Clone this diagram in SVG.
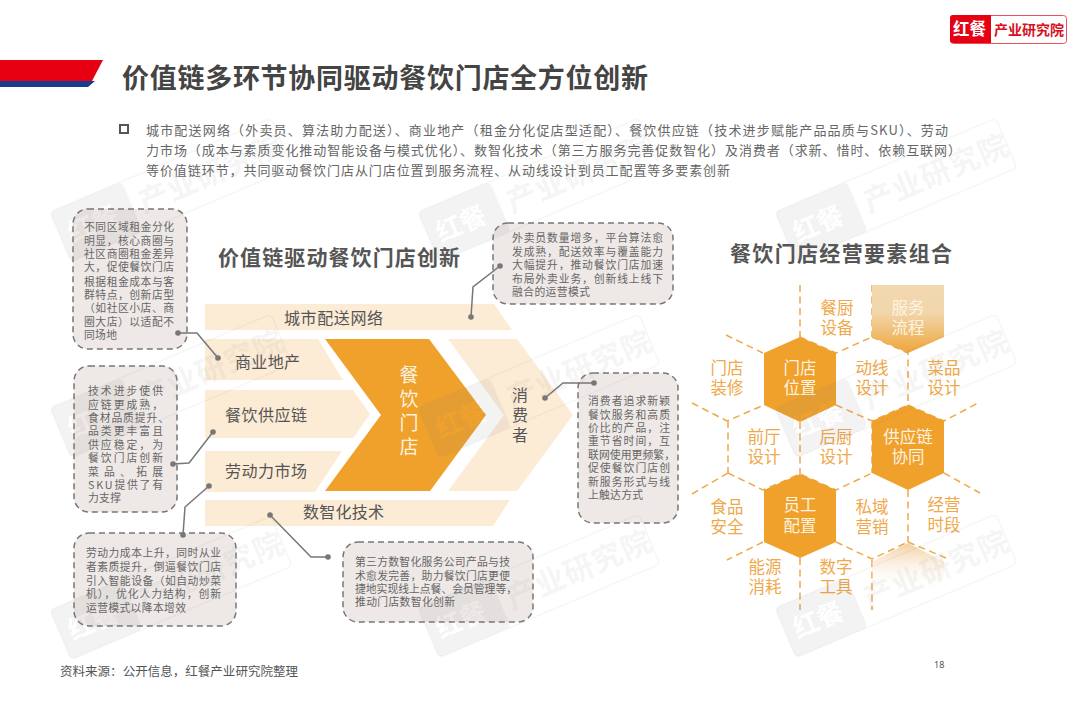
<svg xmlns="http://www.w3.org/2000/svg" width="1080" height="720" viewBox="0 0 1080 720">
<style>
text{font-family:"Noto Sans CJK SC","Noto Sans",sans-serif}
.title{font-size:27px;font-weight:700;fill:#444}
.body{font-size:13px;fill:#666}
.head{font-size:21px;font-weight:700;fill:#555}
.note{fill:#EEE9E6;stroke:#777;stroke-width:1.5;stroke-dasharray:6 4}
.nt{font-size:10.8px;fill:#666}
.band{fill:#FCEBD5}
.bt{font-size:16px;fill:#555}
.hx{fill:#EFA12C}
.ht{font-size:16.5px;fill:#EFA84A;text-anchor:middle}
.hw{font-size:16.5px;fill:#FDF3E0;text-anchor:middle}
.edge{fill:none;stroke:#EFA84A;stroke-width:1.5;stroke-dasharray:7 4.5}
.con{fill:none;stroke:#777;stroke-width:1.5}
.dot{fill:#777}
.wb{fill:#808080;opacity:.09}
.wf{fill:none;stroke:#808080;stroke-width:1.5;opacity:.07}
.wl{font-size:26px;font-weight:700;fill:#000}
.wt{font-size:30px;font-weight:700;fill:#808080;opacity:.07;letter-spacing:1px}
</style>
<defs>
<linearGradient id="g1" x1="0" y1="0" x2="0" y2="1"><stop offset="0" stop-color="#F2D8B0"/><stop offset=".4" stop-color="#F2D6AC"/><stop offset="1" stop-color="#EEA63A"/></linearGradient>
<linearGradient id="g2" x1="0" y1="0" x2="0" y2="1"><stop offset="0" stop-color="#F3CFA0"/><stop offset="1" stop-color="#FFFFFF" stop-opacity="0"/></linearGradient>
<mask id="wk" maskUnits="userSpaceOnUse" x="0" y="0" width="80" height="54"><rect width="80" height="54" fill="#fff"/><text class="wl" x="9" y="37">红餐</text></mask>
<g id="wm">
<rect class="wf" width="240" height="54" rx="5"/>
<rect class="wb" width="78" height="54" rx="5" mask="url(#wk)"/>
<text class="wt" x="86" y="38">产业研究院</text>
</g>
</defs>
<rect width="1080" height="720" fill="#fff"/>

<g id="logo">
<rect x="950.500" y="15.500" width="116" height="28" rx="3" fill="#fff" stroke="#E8505B" stroke-width="1"/>
<path d="M953 15H991V43H953a3 3 0 0 1-3-3V18a3 3 0 0 1 3-3Z" fill="#E60012"/>
<text x="953" y="35" font-size="16.500" font-weight="700" fill="#fff">红餐</text>
<text x="994" y="34.500" font-size="14" font-weight="700" fill="#D8101E" textLength="70">产业研究院</text>
</g>
<g id="banner">
<polygon points="0,81 95,81 88,87 0,87" fill="#1A3A8F"/>
<polygon points="0,60 103,60 92,81 0,81" fill="#E60012"/>
</g>
<text id="title" class="title" x="122" y="88" textLength="526">价值链多环节协同驱动餐饮门店全方位创新</text>
<g id="summary">
<rect x="120" y="125" width="8" height="8" fill="none" stroke="#555" stroke-width="2"/>
<text class="body" x="146" y="134.500" textLength="802">城市配送网络（外卖员、算法助力配送）、商业地产（租金分化促店型适配）、餐饮供应链（技术进步赋能产品品质与SKU）、劳动</text>
<text class="body" x="146" y="154.500" textLength="815">力市场（成本与素质变化推动智能设备与模式优化）、数智化技术（第三方服务完善促数智化）及消费者（求新、惜时、依赖互联网）</text>
<text class="body" x="146" y="175" textLength="584">等价值链环节，共同驱动餐饮门店从门店位置到服务流程、从动线设计到员工配置等多要素创新</text>
</g>
<text id="head-left" class="head" x="218" y="265" textLength="242">价值链驱动餐饮门店创新</text>
<text id="head-right" class="head" x="730" y="261" textLength="222">餐饮门店经营要素组合</text>

<g id="n-city"><polygon class="band" points="205,304 494,304 512,330 205,330"/><text class="bt" x="284" y="324" textLength="99">城市配送网络</text></g>
<g id="n-estate"><polygon class="band" points="205,339 318,339 343,380 205,380"/><text class="bt" x="235" y="368" textLength="65">商业地产</text></g>
<g id="n-supply"><polygon class="band" points="205,390 353,390 370,414 353,438 205,438"/><text class="bt" x="225" y="421" textLength="82">餐饮供应链</text></g>
<g id="n-labor"><polygon class="band" points="205,451 342,451 315,492 205,492"/><text class="bt" x="225" y="477" textLength="82">劳动力市场</text></g>
<g id="n-digital"><polygon class="band" points="205,500 510,500 493,526 205,526"/><text class="bt" x="303" y="518" textLength="81">数智化技术</text></g>
<g id="n-store"><polygon class="hx" points="325,339 429,339 486,415 430,491 325,491 381,415"/>
<text x="409" y="382" font-size="19" fill="#FDF3E0" text-anchor="middle">餐</text><text x="409" y="406" font-size="19" fill="#FDF3E0" text-anchor="middle">饮</text><text x="409" y="430" font-size="19" fill="#FDF3E0" text-anchor="middle">门</text><text x="409" y="454" font-size="19" fill="#FDF3E0" text-anchor="middle">店</text></g>
<g id="n-consumer"><polygon class="band" points="448,339 517,339 573,415 517,491 448,491 504,415"/>
<text class="bt" x="520" y="401" text-anchor="middle">消</text><text class="bt" x="520" y="421" text-anchor="middle">费</text><text class="bt" x="520" y="441" text-anchor="middle">者</text></g>

<g id="note-estate"><rect class="note" x="73" y="209" width="114" height="140" rx="15"/>
<text class="nt" x="84" y="231" textLength="90">不同区域租金分化</text><text class="nt" x="84" y="245" textLength="90">明显，核心商圈与</text><text class="nt" x="84" y="258" textLength="90">社区商圈租金差异</text><text class="nt" x="84" y="271" textLength="90">大，促使餐饮门店</text><text class="nt" x="84" y="286" textLength="90">根据租金成本与客</text><text class="nt" x="84" y="299" textLength="90">群特点，创新店型</text><text class="nt" x="84" y="312" textLength="90">（如社区小店、商</text><text class="nt" x="84" y="326" textLength="90">圈大店）以适配不</text><text class="nt" x="84" y="339" textLength="33">同场地</text></g>
<g id="note-supply"><rect class="note" x="74" y="366" width="103" height="146" rx="15"/>
<text class="nt" x="88" y="395" textLength="75">技术进步使供</text><text class="nt" x="88" y="409" textLength="75">应链更成熟，</text><text class="nt" x="88" y="422" textLength="81">食材品质提升、</text><text class="nt" x="88" y="435" textLength="75">品类更丰富且</text><text class="nt" x="88" y="449" textLength="75">供应稳定，为</text><text class="nt" x="88" y="462" textLength="75">餐饮门店创新</text><text class="nt" x="88" y="476" textLength="75">菜品、拓展</text><text class="nt" x="88" y="489" textLength="75">SKU提供了有</text><text class="nt" x="88" y="502" textLength="33">力支撑</text></g>
<g id="note-labor"><rect class="note" x="74" y="533" width="162" height="93" rx="15"/>
<text class="nt" x="86" y="557" textLength="135">劳动力成本上升，同时从业</text><text class="nt" x="86" y="571" textLength="135">者素质提升，倒逼餐饮门店</text><text class="nt" x="86" y="585" textLength="135">引入智能设备（如自动炒菜</text><text class="nt" x="86" y="598" textLength="135">机），优化人力结构，创新</text><text class="nt" x="86" y="612" textLength="100">运营模式以降本增效</text></g>
<g id="note-city"><rect class="note" x="493" y="223" width="180" height="81" rx="15"/>
<text class="nt" x="512" y="242" textLength="151">外卖员数量增多，平台算法愈</text><text class="nt" x="512" y="256" textLength="151">发成熟，配送效率与覆盖能力</text><text class="nt" x="512" y="269" textLength="151">大幅提升，推动餐饮门店加速</text><text class="nt" x="512" y="283" textLength="151">布局外卖业务，创新线上线下</text><text class="nt" x="512" y="296" textLength="78">融合的运营模式</text></g>
<g id="note-consumer"><rect class="note" x="578" y="373" width="100" height="150" rx="15"/>
<text class="nt" x="588" y="405" textLength="82">消费者追求新颖</text><text class="nt" x="588" y="419" textLength="82">餐饮服务和高质</text><text class="nt" x="588" y="432" textLength="82">价比的产品，注</text><text class="nt" x="588" y="445" textLength="82">重节省时间，互</text><text class="nt" x="588" y="459" textLength="87">联网使用更频繁，</text><text class="nt" x="588" y="472" textLength="82">促使餐饮门店创</text><text class="nt" x="588" y="486" textLength="82">新服务形式与线</text><text class="nt" x="588" y="499" textLength="55">上触达方式</text></g>
<g id="note-digital"><rect class="note" x="343" y="542" width="190" height="80" rx="15"/>
<text class="nt" x="355" y="566" textLength="155">第三方数智化服务公司产品与技</text><text class="nt" x="355" y="580" textLength="155">术愈发完善，助力餐饮门店更便</text><text class="nt" x="355" y="593" textLength="162">捷地实现线上点餐、会员管理等，</text><text class="nt" x="355" y="606" textLength="100">推动门店数智化创新</text></g>

<g id="connectors">
<path class="con" d="M178 333H197L218 358"/><circle class="dot" cx="178" cy="333" r="2.800"/><circle class="dot" cx="218" cy="358" r="2.800"/>
<path class="con" d="M173 464L189 463L213 432"/><circle class="dot" cx="173" cy="464" r="2.800"/><circle class="dot" cx="213" cy="432" r="2.800"/>
<path class="con" d="M183 535L185 507L209 486"/><circle class="dot" cx="183" cy="535" r="2.800"/><circle class="dot" cx="209" cy="486" r="2.800"/>
<path class="con" d="M270 515L311 557H328"/><circle class="dot" cx="270" cy="515" r="2.800"/><circle class="dot" cx="328" cy="557" r="2.800"/>
<path class="con" d="M471 317L473 287L500 266"/><circle class="dot" cx="471" cy="317" r="2.800"/><circle class="dot" cx="500" cy="266" r="2.800"/>
<path class="con" d="M545 398L563 383H594"/><circle class="dot" cx="545" cy="398" r="2.800"/><circle class="dot" cx="594" cy="383" r="2.800"/>
</g>

<g id="hex-edges">
<path class="edge" d="M800 285V337M872 285V337M800 337L836 353L872 337M872 337L908 353V405M726 335L763 353M692 403L727 421L764 405M908 405L944 421L980 402M836 405L872 421L908 405M728 421V473M800 422V474M872 422V473M728 473L763 490L800 474L836 490L872 473M692 494L728 473M763 542L727 560M908 490V542M836 542L872 559L908 542M944 473L980 493M908 542L946 558M800 558V610M872 560V610"/>
</g>
<g id="h-service"><polygon points="872,285 944,285 944,337 908,353 872,337" fill="url(#g1)"/><text class="hw" x="908" y="314">服务</text><text class="hw" x="908" y="334">流程</text></g>
<g id="h-empty"><polygon points="872,562 908,543 944,562 944,590 872,590" fill="url(#g2)"/></g>
<g id="h-location"><polygon class="hx" points="800,337 836,353 836,405 800,422 764,405 764,353"/><text class="hw" x="800" y="374">门店</text><text class="hw" x="800" y="394">位置</text></g>
<g id="h-chain"><polygon class="hx" points="908,405 944,421 944,473 908,490 872,473 872,421"/><text class="hw" x="908" y="443">供应链</text><text class="hw" x="908" y="463">协同</text></g>
<g id="h-staff"><polygon class="hx" points="800,474 836,490 836,542 800,558 764,542 764,490"/><text class="hw" x="800" y="511">员工</text><text class="hw" x="800" y="532">配置</text></g>
<g id="h-labels">
<text class="ht" x="837" y="314">餐厨</text><text class="ht" x="837" y="334">设备</text>
<text class="ht" x="727" y="374">门店</text><text class="ht" x="727" y="394">装修</text>
<text class="ht" x="872" y="374">动线</text><text class="ht" x="872" y="394">设计</text>
<text class="ht" x="944" y="374">菜品</text><text class="ht" x="944" y="394">设计</text>
<text class="ht" x="764" y="443">前厅</text><text class="ht" x="764" y="463">设计</text>
<text class="ht" x="836" y="443">后厨</text><text class="ht" x="836" y="463">设计</text>
<text class="ht" x="727" y="513">食品</text><text class="ht" x="727" y="533">安全</text>
<text class="ht" x="872" y="513">私域</text><text class="ht" x="872" y="533">营销</text>
<text class="ht" x="944" y="511">经营</text><text class="ht" x="944" y="531">时段</text>
<text class="ht" x="765" y="573">能源</text><text class="ht" x="765" y="593">消耗</text>
<text class="ht" x="836" y="573">数字</text><text class="ht" x="836" y="593">工具</text>
</g>

<text id="source" x="60" y="676" font-size="12.500" fill="#555" textLength="238">资料来源：公开信息，红餐产业研究院整理</text>
<text id="page" x="934" y="668" font-size="9" fill="#555" style="font-family:'Noto Sans',sans-serif">18</text>

<g id="watermarks">
<use href="#wm" transform="translate(50 212) rotate(-23)"/>
<use href="#wm" transform="translate(418 212) rotate(-23)"/>
<use href="#wm" transform="translate(775 212) rotate(-23)"/>
<use href="#wm" transform="translate(50 408) rotate(-23)"/>
<use href="#wm" transform="translate(418 408) rotate(-23)"/>
<use href="#wm" transform="translate(775 408) rotate(-23)"/>
<use href="#wm" transform="translate(50 610) rotate(-23)"/>
<use href="#wm" transform="translate(418 608) rotate(-23)"/>
<use href="#wm" transform="translate(775 608) rotate(-23)"/>
</g>
</svg>
